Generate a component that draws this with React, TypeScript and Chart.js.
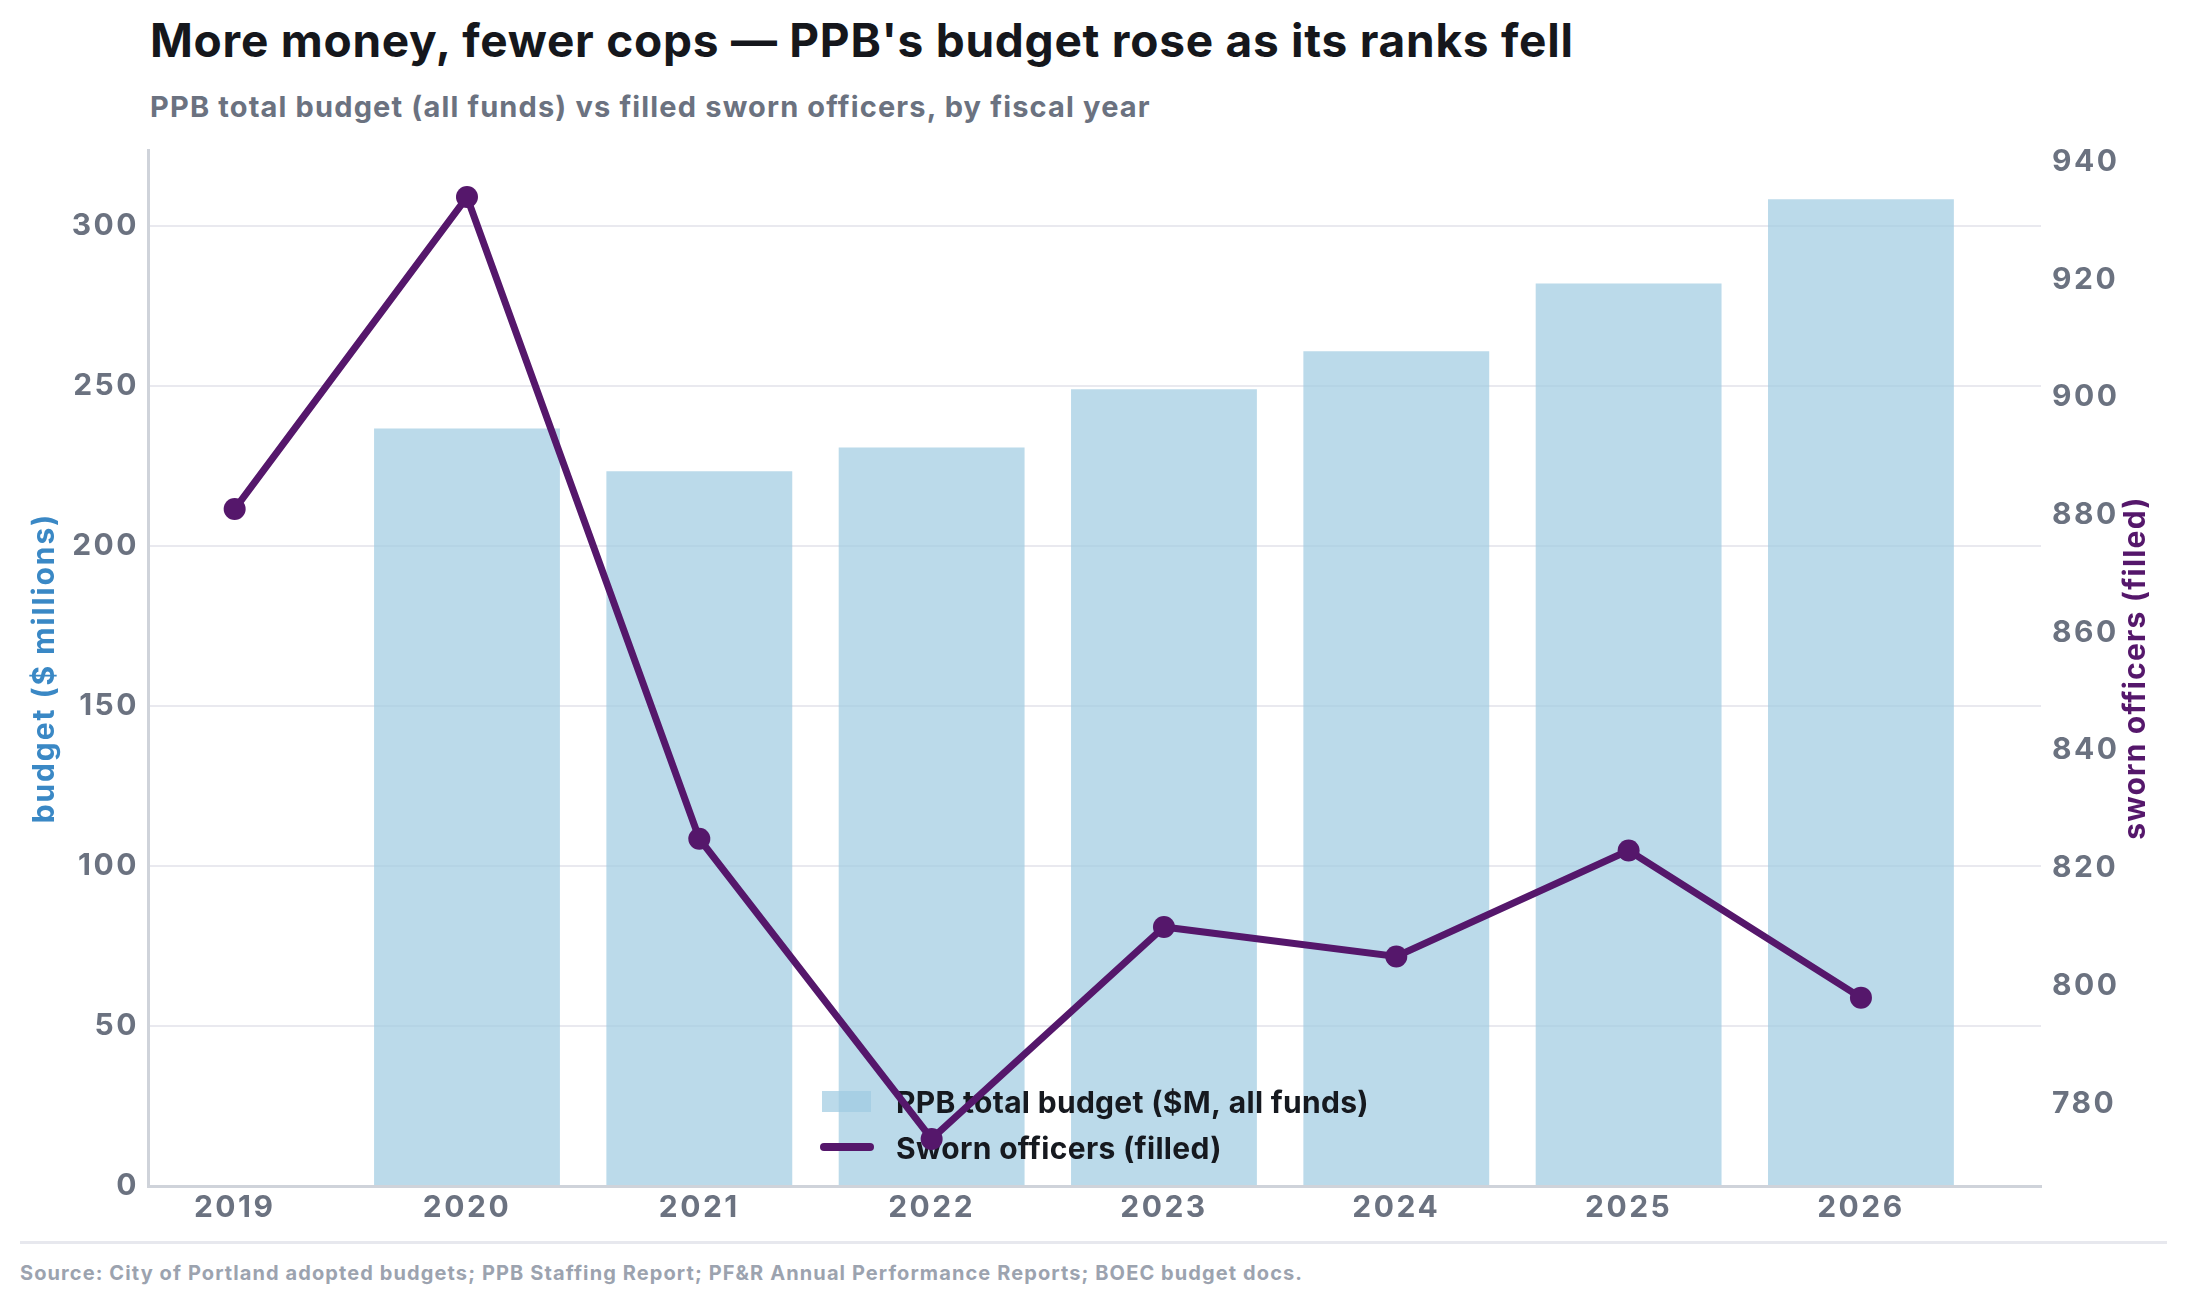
import React, { useEffect, useRef } from "react";
import { Chart, registerables } from "chart.js";

Chart.register(...registerables);

const years = [2019, 2020, 2021, 2022, 2023, 2024, 2025, 2026];
const budgetMillions = [null, 236.8, 223.4, 230.8, 249.0, 260.9, 282.1, 308.4];
const swornOfficers = [881, 934, 825, 774, 810, 805, 823, 798];
const budgetTicks = [0, 50, 100, 150, 200, 250, 300];
const swornTicks = [780, 800, 820, 840, 860, 880, 900, 920, 940];

const FONT = "Inter, Lato, 'Noto Sans', sans-serif";
const BAR_COLOR = "rgba(158, 202, 225, 0.7)";
const LINE_COLOR = "#55176b";
const BLUE = "#3a88c5";
const TICK_GRAY = "#6b7280";

// wider tick digits, closer to the original typeface
const tickSpacing = {
  id: "tickSpacing",
  beforeDraw(chart: any) {
    chart.ctx.letterSpacing = "2.5px";
  },
};

// legend drawn inside the plot, between the bars and the line
const insideLegend = {
  id: "insideLegend",
  beforeDatasetDraw(chart: any, args: any) {
    if (args.index !== 1) return;
    const { ctx, chartArea } = chart;
    const x = chartArea.left + 674;
    const row1 = chartArea.bottom - 73;
    const row2 = chartArea.bottom - 27;
    const ds = chart.data.datasets;
    ctx.save();
    ctx.letterSpacing = "0.3px";
    ctx.fillStyle = BAR_COLOR;
    ctx.fillRect(x, row1 - 22, 49, 21);
    ctx.strokeStyle = LINE_COLOR;
    ctx.lineWidth = 8;
    ctx.lineCap = "round";
    ctx.beginPath();
    ctx.moveTo(x + 2, row2 - 12);
    ctx.lineTo(x + 48, row2 - 12);
    ctx.stroke();
    ctx.fillStyle = "#16191f";
    ctx.font = `bold 30px ${FONT}`;
    ctx.textAlign = "left";
    ctx.textBaseline = "alphabetic";
    ctx.fillText(ds[0].label, x + 74, row1);
    ctx.fillText(ds[1].label, x + 74, row2);
    ctx.restore();
  },
};

// both axis titles read bottom-to-top
const axisTitles = {
  id: "axisTitles",
  afterDraw(chart: any) {
    const { ctx, chartArea, width } = chart;
    const midY = (chartArea.top + chartArea.bottom) / 2;
    const draw = (text: string, x: number, color: string, spacing: string) => {
      ctx.save();
      ctx.translate(x, midY);
      ctx.rotate(-Math.PI / 2);
      ctx.letterSpacing = spacing;
      ctx.fillStyle = color;
      ctx.font = `bold 30px ${FONT}`;
      ctx.textAlign = "center";
      ctx.textBaseline = "middle";
      ctx.fillText(text, 0, 0);
      ctx.restore();
    };
    draw("budget ($ millions)", 45, BLUE, "1.9px");
    draw("sworn officers (filled)", width - 51, LINE_COLOR, "1.2px");
  },
};

const noMargins = (scale: any) => {
  scale.paddingTop = 0;
  scale.paddingBottom = 0;
  scale.paddingLeft = 0;
  scale.paddingRight = 0;
};

function BudgetVsOfficersChart() {
  const canvasRef = useRef<HTMLCanvasElement>(null);

  useEffect(() => {
    if (!canvasRef.current) return;

    const budgetMax = Math.max(...(budgetMillions.filter((v) => v !== null) as number[]));
    const swornMin = Math.min(...swornOfficers);
    const swornMax = Math.max(...swornOfficers);
    const swornPad = (swornMax - swornMin) * 0.05;

    const tickFont = { family: FONT, size: 30, weight: "bold" };

    const chart = new Chart(canvasRef.current, {
      type: "bar",
      data: {
        datasets: [
          {
            type: "bar",
            label: "PPB total budget ($M, all funds)",
            data: years.map((yr, i) => ({ x: yr, y: budgetMillions[i] })) as any,
            backgroundColor: BAR_COLOR,
            borderWidth: 0,
            categoryPercentage: 0.8,
            barPercentage: 1,
            yAxisID: "y",
            order: 1,
          },
          {
            type: "line",
            label: "Sworn officers (filled)",
            data: years.map((yr, i) => ({ x: yr, y: swornOfficers[i] })) as any,
            borderColor: LINE_COLOR,
            backgroundColor: LINE_COLOR,
            borderWidth: 7,
            pointRadius: 11,
            pointBorderWidth: 0,
            pointBackgroundColor: LINE_COLOR,
            tension: 0,
            yAxisID: "y1",
            order: 0,
          },
        ],
      },
      options: {
        responsive: true,
        maintainAspectRatio: false,
        animation: false,
        layout: { padding: { top: 20, left: 0, right: 0, bottom: 0 } },
        font: { family: FONT },
        plugins: {
          legend: { display: false },
          tooltip: { enabled: false },
        },
        scales: {
          x: {
            type: "linear",
            min: 2018.627,
            max: 2026.775,
            offset: false,
            grid: { display: false, drawTicks: false, offset: false },
            border: { display: true, color: "#cfd3da", width: 3 },
            afterBuildTicks: (scale: any) => {
              scale.ticks = years.map((v) => ({ value: v }));
            },
            afterFit: (scale: any) => {
              scale.height = 54;
              noMargins(scale);
            },
            ticks: {
              color: TICK_GRAY,
              padding: 4,
              font: tickFont,
              callback: (v: any) => String(v),
            },
          },
          y: {
            type: "linear",
            position: "left",
            min: 0,
            max: budgetMax * 1.05,
            grid: { color: "#e9e9ef", lineWidth: 2, drawTicks: false },
            border: { display: true, color: "#cfd3da", width: 3 },
            afterBuildTicks: (scale: any) => {
              scale.ticks = budgetTicks.map((v) => ({ value: v }));
            },
            afterFit: (scale: any) => {
              scale.width = 148;
              noMargins(scale);
            },
            ticks: {
              color: TICK_GRAY,
              padding: 9,
              font: tickFont,
            },
          },
          y1: {
            type: "linear",
            position: "right",
            min: swornMin - swornPad,
            max: swornMax + swornPad,
            grid: { display: false, drawTicks: false },
            border: { display: false },
            afterBuildTicks: (scale: any) => {
              scale.ticks = swornTicks.map((v) => ({ value: v }));
            },
            afterFit: (scale: any) => {
              scale.width = 146;
              noMargins(scale);
            },
            ticks: {
              color: TICK_GRAY,
              padding: 11,
              font: tickFont,
            },
          },
        },
      } as any,
      plugins: [tickSpacing, insideLegend, axisTitles],
    });

    return () => chart.destroy();
  }, []);

  return (
    <div style={{ position: "absolute", left: 0, top: 130, width: 2187, height: 1110 }}>
      <canvas ref={canvasRef} />
    </div>
  );
}

export default function App() {
  useEffect(() => {
    document.body.style.margin = "0";
  }, []);

  return (
    <div
      style={{
        position: "relative",
        width: 2187,
        height: 1306,
        background: "#ffffff",
        fontFamily: FONT,
        fontWeight: 700,
        overflow: "hidden",
      }}
    >
      <div
        style={{
          position: "absolute",
          left: 150,
          top: 17,
          fontSize: 46,
          lineHeight: 1,
          letterSpacing: "0.75px",
          color: "#15171c",
          whiteSpace: "nowrap",
        }}
      >
        More money, fewer cops — PPB's budget rose as its ranks fell
      </div>
      <div
        style={{
          position: "absolute",
          left: 150,
          top: 92,
          fontSize: 29,
          lineHeight: 1,
          letterSpacing: "1.15px",
          color: TICK_GRAY,
          whiteSpace: "nowrap",
        }}
      >
        PPB total budget (all funds) vs filled sworn officers, by fiscal year
      </div>
      <BudgetVsOfficersChart />
      <div
        style={{
          position: "absolute",
          left: 20,
          top: 1241,
          width: 2147,
          height: 3,
          background: "#e7e8ee",
        }}
      />
      <div
        style={{
          position: "absolute",
          left: 20,
          top: 1263,
          fontSize: 20,
          lineHeight: 1,
          letterSpacing: "1.1px",
          color: "#9ca3af",
          whiteSpace: "nowrap",
        }}
      >
        Source: City of Portland adopted budgets; PPB Staffing Report; PF&amp;R Annual Performance Reports; BOEC budget docs.
      </div>
    </div>
  );
}
